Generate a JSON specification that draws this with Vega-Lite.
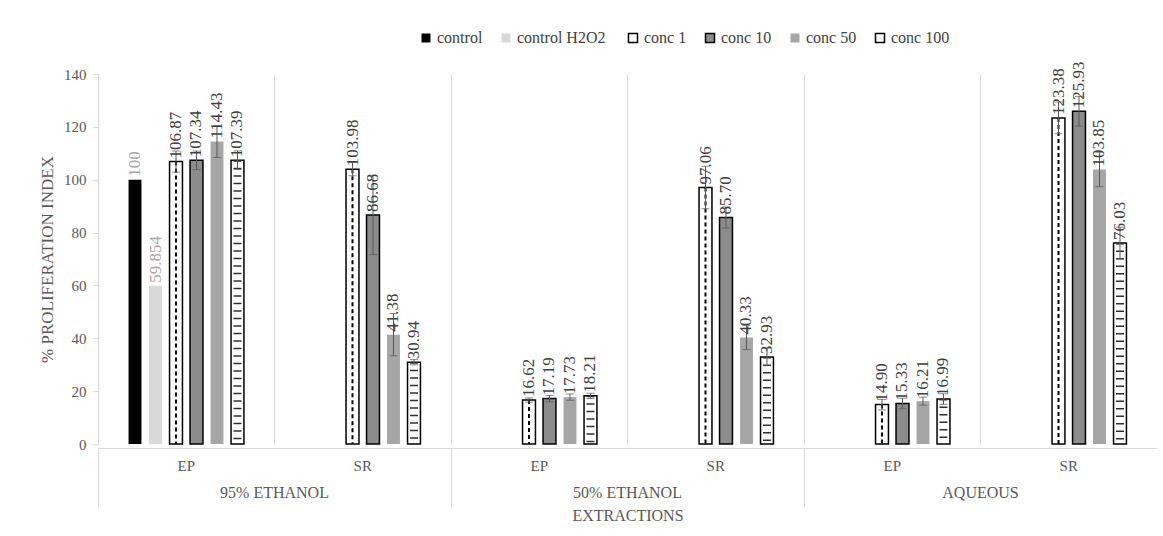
{
  "$schema": "https://vega.github.io/schema/vega-lite/v6.json",
  "background": "white",
  "padding": {"left": 38, "top": 30, "right": 6, "bottom": 10},
  "config": {
    "font": "Liberation Serif",
    "view": {"stroke": null},
    "axis": {"labelFont": "Liberation Serif", "titleFont": "Liberation Serif", "labelFontSize": 15, "titleFontSize": 17, "labelColor": "#595959", "titleColor": "#595959", "titleFontWeight": "normal", "domainColor": "#d9d9d9", "tickColor": "#d9d9d9"}
  },
  "data": {"values": [
    {"extraction": "95% ETHANOL", "part": "EP", "series": "control", "value": 100, "lo": null, "hi": null, "label": "100"},
    {"extraction": "95% ETHANOL", "part": "EP", "series": "control  H2O2", "value": 59.854, "lo": null, "hi": null, "label": "59.854"},
    {"extraction": "95% ETHANOL", "part": "EP", "series": "conc 1", "value": 106.87, "lo": 102.87, "hi": 110.87, "label": "106.87"},
    {"extraction": "95% ETHANOL", "part": "EP", "series": "conc 10", "value": 107.34, "lo": 103.84, "hi": 110.84, "label": "107.34"},
    {"extraction": "95% ETHANOL", "part": "EP", "series": "conc 50", "value": 114.43, "lo": 108.43, "hi": 120.43, "label": "114.43"},
    {"extraction": "95% ETHANOL", "part": "EP", "series": "conc 100", "value": 107.39, "lo": 103.89, "hi": 110.89, "label": "107.39"},
    {"extraction": "95% ETHANOL", "part": "SR", "series": "conc 1", "value": 103.98, "lo": 101.48, "hi": 106.48, "label": "103.98"},
    {"extraction": "95% ETHANOL", "part": "SR", "series": "conc 10", "value": 86.68, "lo": 71.68, "hi": 101.68, "label": "86.68"},
    {"extraction": "95% ETHANOL", "part": "SR", "series": "conc 50", "value": 41.38, "lo": 33.38, "hi": 49.38, "label": "41.38"},
    {"extraction": "95% ETHANOL", "part": "SR", "series": "conc 100", "value": 30.94, "lo": 29.94, "hi": 31.94, "label": "30.94"},
    {"extraction": "50% ETHANOL", "part": "EP", "series": "conc 1", "value": 16.62, "lo": 15.82, "hi": 17.42, "label": "16.62"},
    {"extraction": "50% ETHANOL", "part": "EP", "series": "conc 10", "value": 17.19, "lo": 15.99, "hi": 18.39, "label": "17.19"},
    {"extraction": "50% ETHANOL", "part": "EP", "series": "conc 50", "value": 17.73, "lo": 16.53, "hi": 18.93, "label": "17.73"},
    {"extraction": "50% ETHANOL", "part": "EP", "series": "conc 100", "value": 18.21, "lo": 17.21, "hi": 19.21, "label": "18.21"},
    {"extraction": "50% ETHANOL", "part": "SR", "series": "conc 1", "value": 97.06, "lo": 89.06, "hi": 105.06, "label": "97.06"},
    {"extraction": "50% ETHANOL", "part": "SR", "series": "conc 10", "value": 85.70, "lo": 81.70, "hi": 89.70, "label": "85.70"},
    {"extraction": "50% ETHANOL", "part": "SR", "series": "conc 50", "value": 40.33, "lo": 35.73, "hi": 44.93, "label": "40.33"},
    {"extraction": "50% ETHANOL", "part": "SR", "series": "conc 100", "value": 32.93, "lo": 29.63, "hi": 36.23, "label": "32.93"},
    {"extraction": "AQUEOUS", "part": "EP", "series": "conc 1", "value": 14.90, "lo": 12.90, "hi": 16.90, "label": "14.90"},
    {"extraction": "AQUEOUS", "part": "EP", "series": "conc 10", "value": 15.33, "lo": 13.33, "hi": 17.33, "label": "15.33"},
    {"extraction": "AQUEOUS", "part": "EP", "series": "conc 50", "value": 16.21, "lo": 14.71, "hi": 17.71, "label": "16.21"},
    {"extraction": "AQUEOUS", "part": "EP", "series": "conc 100", "value": 16.99, "lo": 14.99, "hi": 18.99, "label": "16.99"},
    {"extraction": "AQUEOUS", "part": "SR", "series": "conc 1", "value": 123.38, "lo": 117.38, "hi": 129.38, "label": "123.38"},
    {"extraction": "AQUEOUS", "part": "SR", "series": "conc 10", "value": 125.93, "lo": 120.33, "hi": 131.53, "label": "125.93"},
    {"extraction": "AQUEOUS", "part": "SR", "series": "conc 50", "value": 103.85, "lo": 97.35, "hi": 110.35, "label": "103.85"},
    {"extraction": "AQUEOUS", "part": "SR", "series": "conc 100", "value": 76.03, "lo": 70.03, "hi": 82.03, "label": "76.03"}
  ]},
  "spacing": 0,
  "facet": {
    "column": {
      "field": "extraction", "type": "nominal",
      "sort": ["95% ETHANOL", "50% ETHANOL", "AQUEOUS"],
      "header": {
        "labelOrient": "bottom", "titleOrient": "bottom", "title": "EXTRACTIONS",
        "labelFont": "Liberation Serif", "labelFontSize": 16, "labelColor": "#595959",
        "titleFont": "Liberation Serif", "titleFontSize": 16, "titleFontWeight": "normal", "titleColor": "#595959",
        "labelPadding": -22, "titlePadding": -9
      }
    }
  },
  "spec": {
    "width": 353,
    "height": 370,
    "encoding": {
      "x": {
        "field": "part", "type": "nominal", "sort": ["EP", "SR"],
        "scale": {"paddingInner": 0.114, "paddingOuter": 0.057},
        "axis": {
          "title": null, "labelAngle": 0, "bandPosition": -0.0643,
          "grid": true, "gridColor": "#d9d9d9",
          "tickSize": 58,
          "tickColor": {"condition": {"test": "datum.value === 'EP'", "value": "#d9d9d9"}, "value": "transparent"},
          "labelPadding": -48
        }
      },
      "xOffset": {
        "field": "series", "type": "nominal",
        "sort": ["control", "control  H2O2", "conc 1", "conc 10", "conc 50", "conc 100"],
        "scale": {"paddingInner": 0.37, "paddingOuter": 1}
      }
    },
    "layer": [
      {
        "mark": {"type": "bar", "strokeWidth": 1.5},
        "encoding": {
          "y": {
            "field": "value", "type": "quantitative",
            "scale": {"domain": [0, 140]},
            "axis": {"title": "% PROLIFERATION INDEX", "values": [0, 20, 40, 60, 80, 100, 120, 140], "grid": false, "tickSize": 5, "labelPadding": 7, "titlePadding": 7}
          },
          "fill": {
            "field": "series", "type": "nominal",
            "sort": ["control", "control  H2O2", "conc 1", "conc 10", "conc 50", "conc 100"],
            "scale": {"domain": ["control", "control  H2O2", "conc 1", "conc 10", "conc 50", "conc 100"], "range": ["#000000", "#d9d9d9", "#ffffff", "#8c8c8c", "#a6a6a6", "#ffffff"]},
            "legend": {"title": null, "orient": "none", "direction": "horizontal", "legendX": 320, "legendY": -44, "symbolType": "square", "symbolSize": 81, "symbolStrokeWidth": 1.5, "labelFont": "Liberation Serif", "labelFontSize": 16, "labelColor": "#404040", "columnPadding": 15, "labelOffset": 3}
          },
          "stroke": {
            "field": "series", "type": "nominal",
            "sort": ["control", "control  H2O2", "conc 1", "conc 10", "conc 50", "conc 100"],
            "scale": {"domain": ["control", "control  H2O2", "conc 1", "conc 10", "conc 50", "conc 100"], "range": ["transparent", "transparent", "#000000", "#000000", "transparent", "#000000"]},
            "legend": {"title": null}
          }
        }
      },
      {
        "transform": [{"filter": "datum.series === 'conc 1'"}],
        "mark": {"type": "rule", "color": "#000000", "strokeWidth": 2, "strokeDash": [4, 3]},
        "encoding": {
          "y": {"field": "value", "type": "quantitative"},
          "y2": {"datum": 0}
        }
      },
      {
        "transform": [{"filter": "datum.series === 'conc 100'"}],
        "mark": {"type": "rule", "color": "#303030", "strokeWidth": 8, "strokeDash": [1.5, 6]},
        "encoding": {
          "y": {"field": "value", "type": "quantitative"},
          "y2": {"datum": 0}
        }
      },
      {
        "transform": [{"filter": "isValid(datum.lo)"}],
        "mark": {"type": "rule", "color": "#595959", "strokeWidth": 1},
        "encoding": {
          "y": {"field": "lo", "type": "quantitative"},
          "y2": {"field": "hi"}
        }
      },
      {
        "transform": [{"filter": "isValid(datum.lo)"}],
        "mark": {"type": "tick", "color": "#595959", "size": 8, "thickness": 1, "orient": "horizontal"},
        "encoding": {
          "y": {"field": "lo", "type": "quantitative"}
        }
      },
      {
        "transform": [{"filter": "isValid(datum.hi)"}],
        "mark": {"type": "tick", "color": "#595959", "size": 8, "thickness": 1, "orient": "horizontal"},
        "encoding": {
          "y": {"field": "hi", "type": "quantitative"}
        }
      },
      {
        "mark": {"type": "text", "angle": 270, "align": "left", "baseline": "middle", "dx": 3, "fontSize": 17, "font": "Liberation Serif"},
        "encoding": {
          "y": {"field": "value", "type": "quantitative"},
          "text": {"field": "label"},
          "color": {"condition": {"test": "datum.series === 'control' || datum.series === 'control  H2O2'", "value": "#a6a6a6"}, "value": "#404040"}
        }
      }
    ]
  }
}
